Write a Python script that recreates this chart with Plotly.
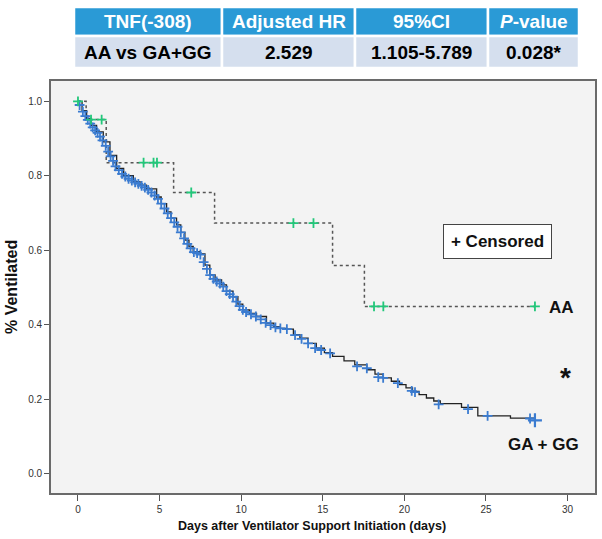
import plotly.graph_objects as go

# ---------------- data ----------------
table_header = ["TNF(-308)", "Adjusted HR", "95%CI", "<i>P</i>-value"]
table_row = ["AA vs GA+GG", "2.529", "1.105-5.789", "0.028*"]

x_ticks = [0, 5, 10, 15, 20, 25, 30]
y_ticks = [0.0, 0.2, 0.4, 0.6, 0.8, 1.0]

# AA group (Kaplan-Meier step curve)
aa_time = [0, 0.5, 1.73, 5.86, 8.37, 15.6, 17.55, 28.0]
aa_surv = [1.0, 0.951, 0.835, 0.755, 0.673, 0.559, 0.449, 0.449]
aa_cens_time = [0, 0.8, 1.45, 4.02, 4.63, 4.84, 6.94, 13.2, 14.43, 18.14, 18.71, 28.0]
aa_cens_surv = [1.0, 0.951, 0.951, 0.835, 0.835, 0.835, 0.755, 0.673, 0.673, 0.449, 0.449, 0.449]

# GA + GG group (Kaplan-Meier step curve)
gg_time = [0, 0.25, 0.53, 0.8, 1.14, 1.55, 1.96, 2.37, 2.8, 3.39, 3.8, 4.2, 4.82, 5.1,
           5.43, 5.7, 6.04, 6.3, 6.55, 6.8, 7.06, 7.47, 7.78, 8.08, 8.4, 8.8, 9.1, 9.5,
           9.8, 10.1, 10.5, 10.94, 11.55, 12.0, 12.37, 12.78, 13.2, 13.6, 14.1, 14.6,
           15.1, 15.6, 16.3, 16.96, 17.7, 18.2, 18.7, 19.2, 19.7, 20.1, 20.5, 20.9,
           21.35, 21.8, 22.2, 23.5, 24.5, 26.5, 28.0]
gg_surv = [1.0, 0.975, 0.954, 0.935, 0.918, 0.891, 0.855, 0.82, 0.80, 0.784, 0.775, 0.765,
           0.743, 0.725, 0.703, 0.686, 0.668, 0.648, 0.627, 0.61, 0.596, 0.59, 0.56, 0.534,
           0.52, 0.507, 0.49, 0.475, 0.455, 0.44, 0.43, 0.422, 0.404, 0.395, 0.39, 0.388,
           0.373, 0.364, 0.35, 0.337, 0.325, 0.315, 0.303, 0.292, 0.279, 0.267, 0.257,
           0.248, 0.239, 0.23, 0.221, 0.212, 0.203, 0.195, 0.188, 0.178, 0.155, 0.149, 0.149]
gg_cens_time = [0.1, 0.3, 0.45, 0.6, 0.75, 0.9, 1.05, 1.2, 1.35, 1.5, 1.7, 1.85, 2.0, 2.15,
                2.3, 2.5, 2.7, 2.9, 3.1, 3.3, 3.5, 3.7, 3.9, 4.1, 4.3, 4.5, 4.7, 4.9, 5.1,
                5.3, 5.5, 5.7, 5.9, 6.1, 6.3, 6.5, 6.7, 6.9, 7.1, 7.3, 7.5, 7.7, 7.9, 8.1,
                8.3, 8.5, 8.7, 8.9, 9.1, 9.3, 9.5, 9.7, 9.9, 10.1, 10.3, 10.6, 10.9, 11.2,
                11.5, 11.8, 12.1, 12.4, 12.8, 13.3, 13.7, 14.1, 14.53, 14.9, 15.45, 17.1,
                17.7, 18.4, 18.7, 19.6, 20.45, 20.65, 22.1, 23.9, 25.1, 27.7]
gg_cens_surv = [0.99, 0.972, 0.96, 0.95, 0.94, 0.93, 0.922, 0.915, 0.905, 0.895, 0.88, 0.865,
                0.852, 0.84, 0.825, 0.815, 0.805, 0.798, 0.792, 0.787, 0.782, 0.778, 0.773,
                0.768, 0.762, 0.755, 0.747, 0.738, 0.725, 0.712, 0.699, 0.686, 0.675, 0.663,
                0.648, 0.632, 0.617, 0.605, 0.595, 0.592, 0.588, 0.568, 0.55, 0.533, 0.523,
                0.516, 0.51, 0.502, 0.49, 0.482, 0.475, 0.462, 0.45, 0.44, 0.434, 0.428,
                0.422, 0.414, 0.405, 0.399, 0.393, 0.39, 0.388, 0.372, 0.362, 0.35, 0.337,
                0.332, 0.323, 0.288, 0.283, 0.259, 0.257, 0.243, 0.222, 0.219, 0.186, 0.173,
                0.155, 0.148]
gg_last_time = [28.0]
gg_last_surv = [0.143]

FONT = "Liberation Sans, Arial, Helvetica, sans-serif"
BLUE = "#3a7bd0"
GREEN = "#22c77a"

# ---- layout geometry (pixels) ----
W, H = 602, 539
ML, MR, MT, MB = 51, 7, 5, 46
PW, PH = W - ML - MR, H - MT - MB
PLOT_H = 412


def px(xp):
    return (xp - ML) / PW


def py(yp):
    return (H - MB - yp) / PH


col_edges = [74, 222, 355, 488, 579]
row_edges = [(7, 36), (36, 68)]
row_fill = ["#2a9ad6", "#d5dfee"]
row_font = ["white", "black"]

fig = go.Figure()

shapes = []
annotations = []
for r, (top, bot) in enumerate(row_edges):
    texts = table_header if r == 0 else table_row
    for c in range(len(col_edges) - 1):
        shapes.append(dict(type="rect", xref="paper", yref="paper",
                           x0=px(col_edges[c]), x1=px(col_edges[c + 1]),
                           y0=py(bot), y1=py(top), fillcolor=row_fill[r],
                           line=dict(color="white", width=2.5), layer="above"))
        annotations.append(dict(text="<b>%s</b>" % texts[c], xref="paper", yref="paper",
                                x=px((col_edges[c] + col_edges[c + 1]) / 2),
                                y=py((top + bot) / 2), xanchor="center", yanchor="middle",
                                showarrow=False,
                                font=dict(family=FONT, size=19, color=row_font[r])))

# AA step curve
fig.add_trace(go.Scatter(x=aa_time, y=aa_surv, mode="lines", line_shape="hv",
                         line=dict(color="#555555", width=1.5, dash="dot"),
                         showlegend=False, hoverinfo="skip"))
# GA+GG step curve
fig.add_trace(go.Scatter(x=gg_time, y=gg_surv, mode="lines", line_shape="hv",
                         line=dict(color="#222222", width=1.3),
                         showlegend=False, hoverinfo="skip"))
# censor marks
fig.add_trace(go.Scatter(x=gg_cens_time, y=gg_cens_surv, mode="markers",
                         marker=dict(symbol="cross-thin", size=7,
                                     line=dict(color=BLUE, width=1.8)),
                         showlegend=False))
fig.add_trace(go.Scatter(x=gg_last_time, y=gg_last_surv, mode="markers",
                         marker=dict(symbol="cross-thin", size=10,
                                     line=dict(color=BLUE, width=2.2)),
                         showlegend=False))
fig.add_trace(go.Scatter(x=aa_cens_time, y=aa_cens_surv, mode="markers",
                         marker=dict(symbol="cross-thin", size=7,
                                     line=dict(color=GREEN, width=1.8)),
                         showlegend=False))

annotations += [
    dict(text="<b>% Ventilated</b>", xref="paper", yref="paper", x=px(12), y=py(287),
         xanchor="center", yanchor="middle",
         textangle=-90, showarrow=False, font=dict(size=16, color="#111")),
    dict(text="<b>Days after Ventilator Support Initiation (days)</b>", xref="paper",
         yref="paper", x=px(312), y=py(526), xanchor="center", yanchor="middle",
         showarrow=False, font=dict(size=12.5, color="#111")),
    dict(text="<b>AA</b>", xref="x", yref="y", x=29.6, y=0.4467, showarrow=False,
         font=dict(size=17, color="#111")),
    dict(text="<b>GA + GG</b>", xref="x", yref="y", x=28.52, y=0.0787, showarrow=False,
         font=dict(size=17, color="#111")),
    dict(text="<b>*</b>", xref="x", yref="y", x=29.88, y=0.258, showarrow=False,
         font=dict(size=28, color="#111")),
    dict(text="<b>+ Censored</b>", xref="x", yref="y", x=25.7, y=0.6226, showarrow=False,
         font=dict(size=17, color="#111"), bgcolor="white", bordercolor="#444",
         borderwidth=1, borderpad=3, width=101, height=27),
]

fig.update_layout(
    width=W, height=H,
    margin=dict(l=ML, r=MR, t=MT, b=MB),
    paper_bgcolor="white", plot_bgcolor="#f3f3f3",
    font=dict(family=FONT, color="#222"),
    showlegend=False,
    xaxis=dict(range=[-1.653, 31.68], tickvals=x_ticks, ticks="outside", ticklen=6,
               tickcolor="#555", tickwidth=1.2, showline=True, linecolor="#6a6a6a",
               linewidth=1.6, mirror=True, showgrid=False, zeroline=False,
               tickfont=dict(size=10, color="#333"), domain=[0, 1]),
    yaxis=dict(range=[-0.0521, 1.0545], tickvals=y_ticks, tickformat=".1f",
               ticks="outside", ticklen=5, tickcolor="#555", tickwidth=1.2,
               showline=True, linecolor="#6a6a6a", linewidth=1.6, mirror=True,
               showgrid=False, zeroline=False, tickfont=dict(size=10, color="#333"),
               domain=[0, PLOT_H / PH]),
    shapes=shapes,
    annotations=annotations,
)

fig.write_html("out.html", config={"displayModeBar": False},
               post_script="document.body.style.margin='0px';")
